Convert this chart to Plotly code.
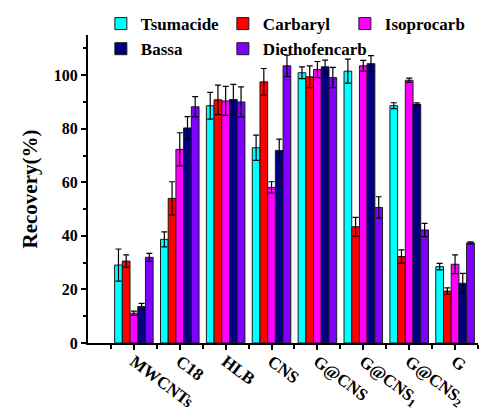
import plotly.graph_objects as go

categories = ["MWCNTs", "C18", "HLB", "CNS", "G@CNS", "G@CNS<sub>1</sub>", "G@CNS<sub>2</sub>", "G"]
series_names = ["Tsumacide", "Carbaryl", "Isoprocarb", "Bassa", "Diethofencarb"]

tsumacide = [29.1, 38.7, 88.6, 72.9, 100.9, 101.5, 88.6, 28.5]
tsumacide_err = [6.0, 2.8, 5.0, 4.7, 2.2, 4.5, 1.1, 1.2]
carbaryl = [30.6, 54.0, 90.8, 97.5, 99.4, 43.4, 32.3, 19.4]
carbaryl_err = [2.3, 6.2, 5.5, 5.0, 4.1, 3.5, 2.5, 1.2]
isoprocarb = [11.1, 72.3, 90.4, 58.1, 102.1, 103.5, 98.1, 29.4]
isoprocarb_err = [0.8, 6.2, 5.4, 2.1, 3.0, 2.0, 0.8, 3.5]
bassa = [13.6, 80.3, 90.9, 71.9, 103.1, 104.3, 89.2, 22.3]
bassa_err = [1.2, 4.2, 5.7, 4.2, 2.5, 3.0, 0.5, 3.7]
diethofencarb = [32.0, 88.2, 90.0, 103.5, 99.1, 50.6, 42.2, 37.4]
diethofencarb_err = [1.5, 3.8, 5.6, 4.0, 3.8, 4.0, 2.5, 0.4]

values = [tsumacide, carbaryl, isoprocarb, bassa, diethofencarb]
errors = [tsumacide_err, carbaryl_err, isoprocarb_err, bassa_err, diethofencarb_err]
colors = ["#00FFFF", "#FF0000", "#FF00FF", "#000080", "#7F00FF"]

FONT = "Liberation Serif, Times New Roman, serif"
x = list(range(len(categories)))

fig = go.Figure()
for name, v, e, c in zip(series_names, values, errors, colors):
    fig.add_trace(go.Bar(
        name="<b>" + name + "</b>", x=x, y=v,
        marker=dict(color=c, line=dict(color="#1a1a1a", width=1)),
        error_y=dict(type="data", array=e, visible=True, color="black", thickness=1.2, width=3),
    ))

# page body has an 8px default margin, so the figure is 8px smaller on each side
fig.update_layout(
    width=491, height=404,
    margin=dict(l=80, r=21, t=27, b=69, autoexpand=False),
    paper_bgcolor="white", plot_bgcolor="white",
    barmode="group", bargap=0.16, bargroupgap=0,
    font=dict(family=FONT, color="black"),
    legend=dict(
        orientation="h", x=0.033, y=1.094, xanchor="left", yanchor="top",
        entrywidth=77, entrywidthmode="pixels",
        font=dict(family=FONT, size=17, color="black"),
        bgcolor="rgba(0,0,0,0)", traceorder="normal",
        tracegroupgap=0, itemclick=False,
    ),
    xaxis=dict(
        range=[-1, 7.5], tickmode="array", tickvals=x, ticktext=categories,
        tickangle=37, ticks="outside", ticklen=5, tickwidth=1.5, tickcolor="black",
        ticklabelstandoff=-5,
        showline=True, linecolor="black", linewidth=2, showgrid=False, zeroline=False,
        automargin=False,
        tickfont=dict(family=FONT, size=17, weight="bold"),
        minor=dict(tickmode="array", tickvals=[i - 0.5 for i in range(9)], ticks="outside",
                   ticklen=4, tickwidth=1.5, tickcolor="black", showgrid=False),
    ),
    yaxis=dict(
        range=[0, 115], tickmode="array", tickvals=[0, 20, 40, 60, 80, 100],
        ticks="outside", ticklen=5, tickwidth=1.5, tickcolor="black",
        showline=True, linecolor="black", linewidth=2, showgrid=False, zeroline=False,
        automargin=False,
        tickfont=dict(family=FONT, size=16, weight="bold"),
        title=dict(text="Recovery(%)", font=dict(family=FONT, size=21, weight="bold"), standoff=10),
        minor=dict(tickmode="array", tickvals=[10, 30, 50, 70, 90, 110], ticks="outside",
                   ticklen=3, tickwidth=1.5, tickcolor="black", showgrid=False),
    ),
)

fig.write_html("out.html")
